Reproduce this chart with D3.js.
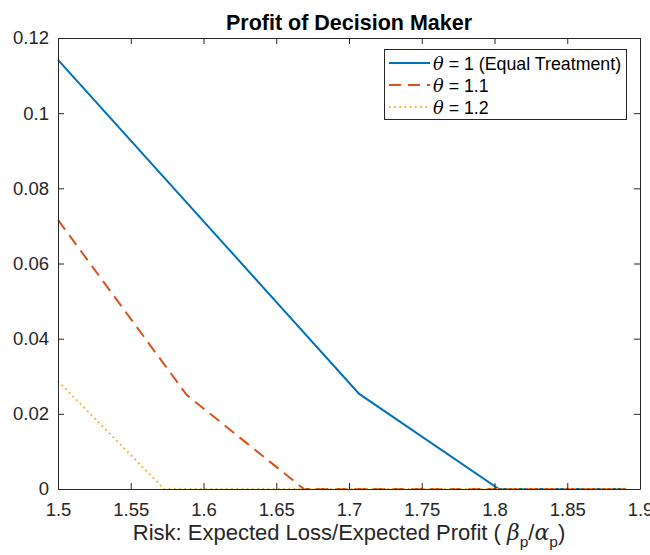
<!DOCTYPE html>
<html>
<head>
<meta charset="utf-8">
<script src="https://cdn.jsdelivr.net/npm/d3@7"></script>
<style>
  html, body { margin: 0; padding: 0; background: #fff; }
  svg { display: block; font-family: "Liberation Sans", Arial, Helvetica, sans-serif; }
</style>
</head>
<body>
<svg id="chart" width="650" height="555"></svg>
<script>
// Risk ratio breakpoints and decision-maker profit for each theta
const riskEqual = [1.5, 1.707, 1.803, 1.89];
const profitEqual = [0.1142, 0.0253, 0, 0];

const risk11 = [1.5, 1.5885, 1.669, 1.89];
const profit11 = [0.0716, 0.025, 0, 0];

const risk12 = [1.5, 1.573, 1.89];
const profit12 = [0.0287, 0, 0];

const seriesLabels = ["θ = 1 (Equal Treatment)", "θ = 1.1", "θ = 1.2"];
const xTicks = [1.5, 1.55, 1.6, 1.65, 1.7, 1.75, 1.8, 1.85, 1.9];
const yTicks = [0, 0.02, 0.04, 0.06, 0.08, 0.1, 0.12];

const colors = ["#0072BD", "#D95319", "#EDB120"];
const dashes = [null, "12,7", "1.6,3.6"];

const margin = { left: 58, top: 38, right: 640, bottom: 489 };
const svg = d3.select("#chart");
const axisColor = "#262626";
const mathFont = "'DejaVu Serif', 'Liberation Serif', serif";

const x = d3.scaleLinear().domain([1.5, 1.9]).range([margin.left, margin.right]);
const y = d3.scaleLinear().domain([0, 0.12]).range([margin.bottom, margin.top]);

const series = [
  { xs: riskEqual, ys: profitEqual },
  { xs: risk11, ys: profit11 },
  { xs: risk12, ys: profit12 }
];

// Data lines (drawn beneath the axes box)
const line = d3.line().x(d => x(d[0])).y(d => y(d[1]));
const plot = svg.append("g");
series.forEach((s, i) => {
  const pts = s.xs.map((v, k) => [v, s.ys[k]]);
  plot.append("path")
    .attr("d", line(pts))
    .attr("fill", "none")
    .attr("stroke", colors[i])
    .attr("stroke-width", 2)
    .attr("stroke-dasharray", dashes[i]);
});

// Axes with inward ticks on all four sides
const tickLen = 6;
const fmt = d => d === 0 ? "0" : String(+d.toFixed(2));

const xAxis = svg.append("g").attr("transform", `translate(0,${margin.bottom})`)
  .call(d3.axisBottom(x).tickValues(xTicks).tickSizeInner(-tickLen).tickSizeOuter(0).tickPadding(14).tickFormat(fmt));
const xTop = svg.append("g").attr("transform", `translate(0,${margin.top})`)
  .call(d3.axisTop(x).tickValues(xTicks).tickSizeInner(-tickLen).tickSizeOuter(0).tickFormat(""));
const yAxis = svg.append("g").attr("transform", `translate(${margin.left},0)`)
  .call(d3.axisLeft(y).tickValues(yTicks).tickSizeInner(-tickLen).tickSizeOuter(0).tickPadding(9).tickFormat(fmt));
const yRight = svg.append("g").attr("transform", `translate(${margin.right},0)`)
  .call(d3.axisRight(y).tickValues(yTicks).tickSizeInner(-tickLen).tickSizeOuter(0).tickFormat(""));

[xAxis, xTop, yAxis, yRight].forEach(g => {
  g.select(".domain").attr("stroke", axisColor).attr("stroke-width", 1);
  g.selectAll(".tick line").attr("stroke", axisColor).attr("stroke-width", 1);
  g.selectAll(".tick text").attr("fill", axisColor).attr("font-size", 18.5)
    .attr("font-family", "'Liberation Sans', Arial, sans-serif");
});
xAxis.selectAll(".tick text").attr("dy", "0.71em");

// Title
svg.append("text")
  .attr("x", (margin.left + margin.right) / 2).attr("y", 30)
  .attr("text-anchor", "middle").attr("font-size", 21.5).attr("font-weight", "bold")
  .attr("fill", "#000").text("Profit of Decision Maker");

// X axis label with Greek ratio
const xl = svg.append("text")
  .attr("x", (margin.left + margin.right) / 2).attr("y", 540)
  .attr("text-anchor", "middle").attr("font-size", 22).attr("fill", axisColor);
xl.append("tspan").text("Risk: Expected Loss/Expected Profit ( ");
xl.append("tspan").attr("font-style", "italic").attr("font-family", mathFont).text("β");
xl.append("tspan").attr("font-size", 15.5).attr("dy", 7).text("p");
xl.append("tspan").attr("dy", -7).text("/");
xl.append("tspan").attr("font-style", "italic").attr("font-family", mathFont).text("α");
xl.append("tspan").attr("font-size", 15.5).attr("dy", 7).text("p");
xl.append("tspan").attr("dy", -7).text(")");

// Legend
const lg = svg.append("g");
lg.append("rect").attr("x", 384.5).attr("y", 49.5).attr("width", 242).attr("height", 70)
  .attr("fill", "#fff").attr("stroke", axisColor).attr("stroke-width", 1);
seriesLabels.forEach((lab, i) => {
  const cy = 63 + i * 22;
  lg.append("line").attr("x1", 389).attr("x2", 430).attr("y1", cy).attr("y2", cy)
    .attr("stroke", colors[i]).attr("stroke-width", 2).attr("stroke-dasharray", dashes[i]);
  const t = lg.append("text").attr("x", 433).attr("y", cy + 7).attr("font-size", 17.8).attr("fill", "#000");
  t.append("tspan").attr("font-style", "italic").attr("font-family", mathFont).text(lab.slice(0, 1));
  t.append("tspan").text(lab.slice(1));
});
</script>
</body>
</html>
